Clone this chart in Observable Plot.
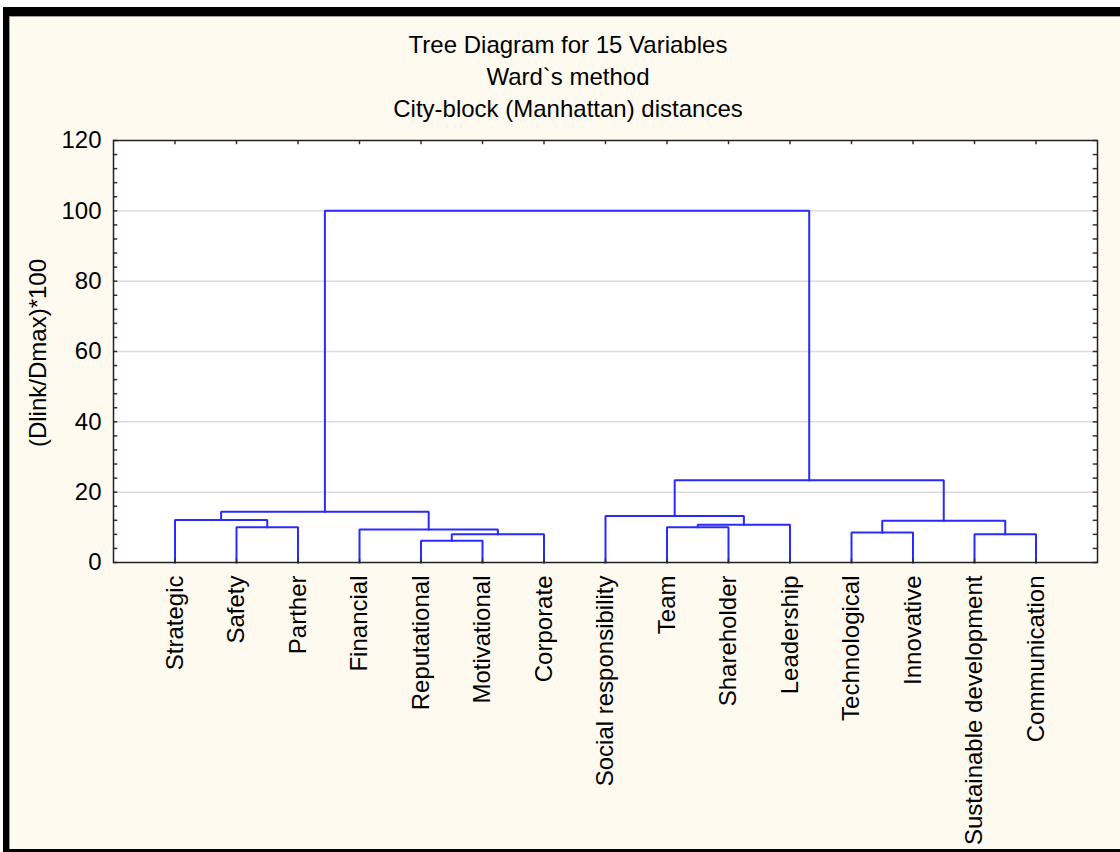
<!DOCTYPE html>
<html>
<head>
<meta charset="utf-8">
<script src="https://cdn.jsdelivr.net/npm/d3@7"></script>
<script src="https://cdn.jsdelivr.net/npm/@observablehq/plot@0.6"></script>
<style>
  html, body { margin: 0; padding: 0; background: #fff; }
  #page { position: absolute; left: 0; top: 0; width: 1120px; height: 852px; overflow: hidden; background: #fff; }
  #panel { position: absolute; left: 3px; top: 7px; width: 1117px; height: 845px; box-sizing: border-box;
           background: #fffaf0; border-left: 6px solid #000; border-top: 9px solid #000; border-bottom: 3px solid #000;
           box-shadow: inset 1px 1px 0 #9a9a9a; }
  .t { position: absolute; left: 0; width: 1136px; text-align: center; font-family: "Liberation Sans", Arial, sans-serif;
       font-size: 24px; line-height: 26px; color: #000; white-space: nowrap; }
  #ylab { position: absolute; left: 38px; top: 353px; transform: translate(-50%, -50%) rotate(-90deg);
          font-family: "Liberation Sans", Arial, sans-serif; font-size: 24px; line-height: 26px; white-space: nowrap; color: #000; }
  #chart { position: absolute; left: 0; top: 120px; }
</style>
</head>
<body>
<div id="page">
  <div id="panel"></div>
  <div class="t" style="top:32px">Tree Diagram for 15 Variables</div>
  <div class="t" style="top:64px">Ward`s method</div>
  <div class="t" style="top:96px">City-block (Manhattan) distances</div>
  <div id="ylab">(Dlink/Dmax)*100</div>
  <div id="chart"></div>
</div>
<script>
// Leaves in dendrogram order
const leaves = ["Strategic", "Safety", "Parther", "Financial", "Reputational", "Motivational", "Corporate",
  "Social responsibility", "Team", "Shareholder", "Leadership", "Technological", "Innovative",
  "Sustainable development", "Communication"];

// Linkage: merge k joins node mergeA[k] and mergeB[k] (leaves 0..14, merged clusters 15..) at mergeHeight[k]
const mergeA = [4, 15, 13, 11, 3, 1, 8, 21, 18, 0, 7, 24, 25, 26];
const mergeB = [5, 6, 14, 12, 16, 2, 9, 10, 17, 20, 22, 19, 23, 27];
const mergeHeight = [6.2, 8.05, 8.05, 8.5, 9.4, 10.0, 10.05, 10.7, 11.9, 12.1, 13.2, 14.4, 23.4, 100];

const yTicks = [0, 20, 40, 60, 80, 100, 120];
const yMinorStep = 4;

// Build dendrogram paths (positions derived from the linkage)
const nodeX = leaves.map((_, i) => i + 1);
const nodeH = leaves.map(() => 0);
const paths = [];
mergeA.forEach((a, k) => {
  const b = mergeB[k], h = mergeHeight[k];
  paths.push({k, x: nodeX[a], y: nodeH[a]});
  paths.push({k, x: nodeX[a], y: h});
  paths.push({k, x: nodeX[b], y: h});
  paths.push({k, x: nodeX[b], y: nodeH[b]});
  nodeX.push((nodeX[a] + nodeX[b]) / 2);
  nodeH.push(h);
});
const leafPos = leaves.map((_, i) => i + 1);
const minorTicks = d3.range(0, 120 + 1e-9, yMinorStep);

const chart = Plot.plot({
  width: 1120,
  height: 730,
  marginLeft: 113,
  marginRight: 23,
  marginTop: 20,
  marginBottom: 288,
  style: {background: "transparent", fontFamily: "'Liberation Sans', Arial, sans-serif", fontSize: "24px", color: "#000", overflow: "visible"},
  x: {domain: [0, 16]},
  y: {domain: [0, 120]},
  marks: [
    Plot.frame({fill: "#ffffff", stroke: null}),
    Plot.gridY(yTicks.filter(d => d > 0 && d < 120), {stroke: "#dcdcdc", strokeOpacity: 1, strokeWidth: 1.5}),
    Plot.line(paths, {x: "x", y: "y", z: "k", stroke: "#2a2aff", strokeWidth: 2, strokeLinejoin: "miter", strokeLinecap: "square"}),
    // inward ticks on left and right
    Plot.ruleY(minorTicks, {x1: 0, x2: 0.07, stroke: "#333", strokeWidth: 1.5}),
    Plot.ruleY(minorTicks, {x1: 16, x2: 15.93, stroke: "#333", strokeWidth: 1.5}),
    // inward ticks on top and bottom at leaves
    Plot.ruleX(leafPos, {y1: 120, y2: 118.8, stroke: "#333", strokeWidth: 1.5}),
    Plot.ruleX(leafPos, {y1: 0, y2: 1, stroke: "#333", strokeWidth: 1.5}),
    Plot.axisY(yTicks, {tickSize: 0, tickPadding: 12, label: null, fontSize: 24}),
    Plot.axisX(leafPos, {tickSize: 0, tickPadding: 13, tickRotate: -90, tickFormat: d => leaves[d - 1], label: null, fontSize: 24}),
    Plot.frame({stroke: "#222", strokeWidth: 1.5})
  ]
});
document.getElementById("chart").appendChild(chart);
</script>
</body>
</html>
